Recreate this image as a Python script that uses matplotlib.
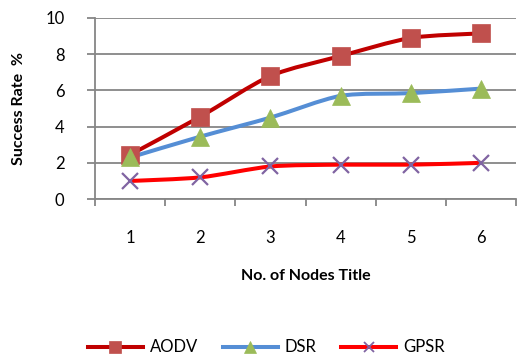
import numpy as np
import matplotlib
matplotlib.use("Agg")
from matplotlib import pyplot as plt
from matplotlib.path import Path
from matplotlib.patches import PathPatch
from matplotlib.lines import Line2D

plt.rcParams['font.family'] = ['Lato', 'DejaVu Sans']

nodes = [1, 2, 3, 4, 5, 6]
aodv = [2.45, 4.55, 6.8, 7.9, 8.9, 9.15]
dsr = [2.3, 3.45, 4.5, 5.7, 5.85, 6.1]
gpsr = [1.0, 1.2, 1.8, 1.9, 1.9, 2.0]

series = [
    ('AODV', aodv, '#C00000', 's', '#C0504D'),
    ('DSR', dsr, '#558ED5', '^', '#9BBB59'),
    ('GPSR', gpsr, '#FF0000', 'x', '#8064A2'),
]


def smooth_path(xs, ys, t=0.13):
    # bezier segments through the points, like a spreadsheet "smoothed line"
    pts = np.column_stack([xs, ys]).astype(float)
    verts = [pts[0]]
    codes = [Path.MOVETO]
    n = len(pts)
    for i in range(n - 1):
        p0 = pts[i - 1] if i > 0 else pts[i]
        p1 = pts[i]
        p2 = pts[i + 1]
        p3 = pts[i + 2] if i + 2 < n else pts[i + 1]
        c1 = p1 + (p2 - p0) * t
        c2 = p2 - (p3 - p1) * t
        verts += [c1, c2, p2]
        codes += [Path.CURVE4] * 3
    return Path(verts, codes)


fig = plt.figure(figsize=(5.17, 3.6), dpi=100)
ax = fig.add_axes([0.184, 0.447, 0.814, 0.503])

handles = []
for name, vals, lc, mk, mc in series:
    patch = PathPatch(smooth_path(nodes, vals), fill=False, edgecolor=lc,
                      lw=2.9, capstyle='round', joinstyle='round', zorder=3)
    ax.add_patch(patch)
    if mk == 'x':
        ax.plot(nodes, vals, ls='none', marker=mk, ms=12, mew=1.6,
                color=mc, zorder=4)
    else:
        ax.plot(nodes, vals, ls='none', marker=mk, ms=13, mew=0.5,
                mfc=mc, mec=mc, zorder=4)
    handles.append(Line2D([], [], color=lc, lw=2.9, marker=mk,
                          ms=8 if mk != 'x' else 7.5, mfc=mc, mec=mc,
                          mew=0.5 if mk != 'x' else 1.3, label=name))

ax.set_xlim(0.5, 6.5)
ax.set_ylim(0, 10)
ax.set_yticks([0, 2, 4, 6, 8, 10])
ax.set_xticks(nodes)
ax.set_xticks(np.arange(0.5, 7, 1), minor=True)
ax.tick_params(axis='x', which='major', length=0, pad=22, labelsize=12)
ax.tick_params(axis='x', which='minor', length=5, width=1.3, color='#868686',
               direction='out')
ax.tick_params(axis='y', length=6, width=1.3, color='#868686', labelsize=12,
               pad=16)
ax.grid(axis='y', color='#868686', lw=1.3)
ax.set_axisbelow(True)
for side in ['top', 'right']:
    ax.spines[side].set_visible(False)
for side in ['left', 'bottom']:
    ax.spines[side].set_color('#868686')
    ax.spines[side].set_linewidth(1.3)

ax.set_ylabel('Success Rate  %', fontsize=11.5, fontweight='bold', labelpad=14)
ax.set_xlabel('No. of Nodes Title', fontsize=11.5, fontweight='bold', labelpad=17)

fig.legend(handles=handles, loc='center', bbox_to_anchor=(0.515, 0.035),
           ncol=3, frameon=False, fontsize=12, handlelength=3.3,
           columnspacing=1.5, handletextpad=0.4)

fig.savefig('out.png', dpi=100)
